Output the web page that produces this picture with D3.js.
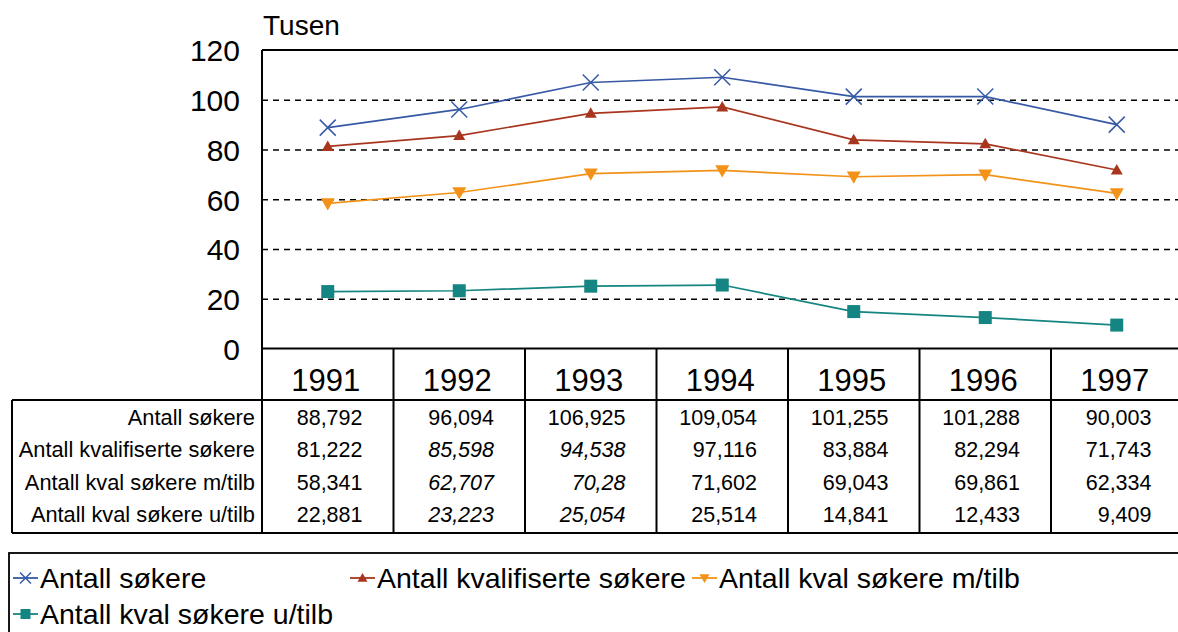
<!DOCTYPE html>
<html><head><meta charset="utf-8">
<script src="https://cdn.jsdelivr.net/npm/d3@7"></script>
<style>
html,body{margin:0;padding:0;background:#fff;overflow:hidden}
svg{display:block;font-family:"Liberation Sans",Arial,sans-serif}
</style></head>
<body><svg id="c" width="1178" height="632"></svg>
<script>
const years = ["1991","1992","1993","1994","1995","1996","1997"];
const seriesNames = ["Antall søkere","Antall kvalifiserte søkere","Antall kval søkere m/tilb","Antall kval søkere u/tilb"];
const sokere      = [88.792, 96.094, 106.925, 109.054, 101.255, 101.288, 90.003];
const kvalifiserte= [81.222, 85.598, 94.538, 97.116, 83.884, 82.294, 71.743];
const kvalMedTilb = [58.341, 62.707, 70.28, 71.602, 69.043, 69.861, 62.334];
const kvalUtenTilb= [22.881, 23.223, 25.054, 25.514, 14.841, 12.433, 9.409];
const yTicks = [0,20,40,60,80,100,120];
const unitLabel = "Tusen";

const seriesValues = [sokere, kvalifiserte, kvalMedTilb, kvalUtenTilb];
const colors = ["#3759a5","#a8361f","#f39218","#148582"];
const markers = ["x","triUp","triDown","square"];

const svg = d3.select("#c");
const L = 262, R = 1182.5, T = 50, B = 348.5;
const x = d3.scaleBand().domain(years).range([L, R]).padding(0);
const y = d3.scaleLinear().domain([0,120]).range([B, T]);
const cx = d => x(d) + x.bandwidth()/2;

// gridlines
const grid = svg.append("g").attr("transform",`translate(${L},0)`)
  .call(d3.axisLeft(y).tickValues(yTicks.filter(t=>t>0 && t<120)).tickSize(-(R-L)).tickFormat(""));
grid.select(".domain").remove();
grid.selectAll("line").attr("stroke","#000").attr("stroke-width",1.6).attr("stroke-dasharray","6,5");

// y tick labels
const ya = svg.append("g").attr("transform",`translate(${L-22},0)`)
  .call(d3.axisLeft(y).tickValues(yTicks).tickSize(0).tickPadding(0));
ya.select(".domain").remove();
ya.selectAll("text").attr("font-size",30).attr("fill","#000").attr("font-family","Liberation Sans, Arial, sans-serif").attr("dy","0.36em");

svg.append("text").attr("x",263).attr("y",35).attr("font-size",28).attr("fill","#000").text(unitLabel);

// plot frame
svg.append("line").attr("x1",L).attr("x2",R).attr("y1",T).attr("y2",T).attr("stroke","#000").attr("stroke-width",2);
svg.append("line").attr("x1",L).attr("x2",L).attr("y1",T).attr("y2",533).attr("stroke","#000").attr("stroke-width",2);
svg.append("line").attr("x1",L).attr("x2",R).attr("y1",B).attr("y2",B).attr("stroke","#000").attr("stroke-width",2);

// table
const tTop = 400, tBot = 533, tLeft = 12;
svg.append("line").attr("x1",tLeft).attr("x2",R).attr("y1",tTop).attr("y2",tTop).attr("stroke","#000").attr("stroke-width",2);
svg.append("line").attr("x1",tLeft).attr("x2",R).attr("y1",tBot).attr("y2",tBot).attr("stroke","#000").attr("stroke-width",2);
svg.append("line").attr("x1",tLeft).attr("x2",tLeft).attr("y1",tTop).attr("y2",tBot).attr("stroke","#000").attr("stroke-width",2);
svg.selectAll(".vsep").data(years.slice(1)).enter().append("line")
  .attr("x1",d=>x(d)).attr("x2",d=>x(d)).attr("y1",B).attr("y2",tBot).attr("stroke","#000").attr("stroke-width",2);
svg.selectAll(".yr").data(years).enter().append("text")
  .attr("x",d=>cx(d)-2).attr("y",391).attr("text-anchor","middle").attr("font-size",31).attr("fill","#000").text(d=>d);

const rowBase = [425, 457, 490, 522];
const fmt = v => String(v).replace(".", ",");
seriesNames.forEach((name,i)=>{
  svg.append("text").attr("x",255).attr("y",rowBase[i]).attr("text-anchor","end")
    .attr("font-size",21.8).attr("fill","#000").text(name);
  svg.selectAll(".v"+i).data(seriesValues[i]).enter().append("text")
    .attr("x",(d,j)=>x(years[j]) + x.bandwidth() - 31)
    .attr("y",rowBase[i]).attr("text-anchor","end").attr("font-size",21.5).attr("fill","#000")
    .attr("font-style",(d,j)=> (i>0 && (years[j]==="1992"||years[j]==="1993")) ? "italic" : "normal")
    .text(d=>fmt(d));
});

// markers
function drawMarker(g, type, color, s){
  if(type==="x"){
    g.append("path").attr("d",`M${-s},${-s}L${s},${s}M${-s},${s}L${s},${-s}`).attr("stroke",color).attr("stroke-width",1.5).attr("fill","none");
  } else if(type==="triUp"){
    g.append("path").attr("d",`M0,${-s}L${s},${s*0.75}L${-s},${s*0.75}Z`).attr("fill",color);
  } else if(type==="triDown"){
    g.append("path").attr("d",`M0,${s}L${s},${-s*0.75}L${-s},${-s*0.75}Z`).attr("fill",color);
  } else {
    g.append("rect").attr("x",-s).attr("y",-s).attr("width",2*s).attr("height",2*s).attr("fill",color);
  }
}
const markerSize = [8, 6, 7, 6.5];

const line = d3.line().x((d,j)=>cx(years[j])).y(d=>y(d));
seriesValues.forEach((vals,i)=>{
  svg.append("path").datum(vals).attr("d",line).attr("fill","none").attr("stroke",colors[i]).attr("stroke-width",1.7);
  vals.forEach((v,j)=>{
    const g = svg.append("g").attr("transform",`translate(${cx(years[j])},${y(v)})`);
    drawMarker(g, markers[i], colors[i], markerSize[i]);
  });
});

// legend
svg.append("rect").attr("x",9).attr("y",553).attr("width",1200).attr("height",120).attr("fill","none").attr("stroke","#000").attr("stroke-width",1.8);
const legPos = [[13,578],[350,578],[692,578],[13,614]];
seriesNames.forEach((name,i)=>{
  const [lx,ly] = legPos[i];
  const g = svg.append("g").attr("transform",`translate(${lx},${ly})`);
  g.append("line").attr("x1",0).attr("x2",25).attr("y1",0).attr("y2",0).attr("stroke",colors[i]).attr("stroke-width",1.8);
  const mg = g.append("g").attr("transform","translate(12.5,0)");
  drawMarker(mg, markers[i], colors[i], i===0?5.5:5);
  g.append("text").attr("x",27).attr("y",0).attr("dy","0.36em").attr("font-size",28.5).attr("fill","#000").text(name);
});
</script></body></html>
